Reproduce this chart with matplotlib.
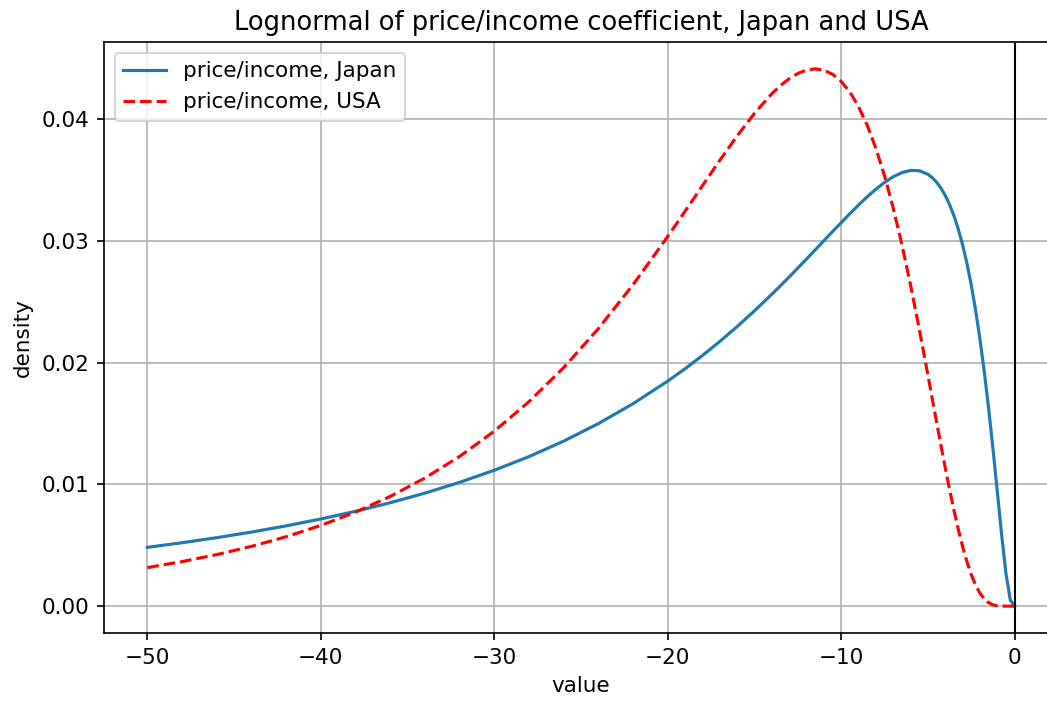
import matplotlib
matplotlib.use("Agg")
import matplotlib.pyplot as plt

plt.rcParams["font.size"] = 10.3

# value axis (negated price/income), shared by both curves
value = [-50, -48, -46, -44, -42, -40, -38, -36, -34, -32, -30, -28, -26, -24, -22,
         -20, -19, -18, -17, -16, -15, -14, -13.5, -13, -12.5, -12, -11.5, -11, -10.5,
         -10, -9.5, -9, -8.5, -8, -7.5, -7, -6.5, -6, -5.5, -5, -4.75, -4.5, -4.25,
         -4, -3.75, -3.5, -3.25, -3, -2.75, -2.5, -2.25, -2, -1.75, -1.5, -1.25, -1,
         -0.75, -0.5, -0.25, 0]

# lognormal density, Japan
density_japan = [0.004831, 0.005209, 0.005625, 0.006085, 0.006595, 0.007162, 0.007792,
                 0.008496, 0.009284, 0.010169, 0.011164, 0.012287, 0.013557, 0.014998,
                 0.016632, 0.018490, 0.019507, 0.020592, 0.021745, 0.022968, 0.024261,
                 0.025621, 0.026324, 0.027043, 0.027774, 0.028515, 0.029264, 0.030017,
                 0.030770, 0.031510, 0.032249, 0.032959, 0.033634, 0.034258, 0.034813,
                 0.035280, 0.035621, 0.035802, 0.035776, 0.035478, 0.035205, 0.034833,
                 0.034351, 0.033743, 0.032992, 0.032078, 0.030982, 0.029684, 0.028160,
                 0.026376, 0.024314, 0.021946, 0.019259, 0.016247, 0.012944, 0.009429,
                 0.005874, 0.002673, 0.000501, 0.0]

# lognormal density, USA
density_usa = [0.003167, 0.003659, 0.004234, 0.004909, 0.005701, 0.006632, 0.007725,
               0.009013, 0.010525, 0.012299, 0.014376, 0.016795, 0.019595, 0.022799,
               0.026408, 0.030370, 0.032443, 0.034542, 0.036623, 0.038631, 0.040489,
               0.042099, 0.042773, 0.043334, 0.043767, 0.044044, 0.044144, 0.044039,
               0.043705, 0.043114, 0.042237, 0.041041, 0.039509, 0.037617, 0.035351,
               0.032714, 0.029711, 0.026377, 0.022770, 0.018972, 0.017047, 0.015119,
               0.013212, 0.011352, 0.009572, 0.007880, 0.006315, 0.004896, 0.003649,
               0.002587, 0.001726, 0.001063, 0.000588, 0.000282, 0.000110, 0.000031,
               0.000003, 0.0, 0.0, 0.0]

fig = plt.figure(figsize=(6.98, 4.68), dpi=150)
ax = fig.add_axes([104 / 1047, 69 / 702, 954 / 1047, 591 / 702])

ax.plot(value, density_japan, label="price/income, Japan")
ax.plot(value, density_usa, "r--", label="price/income, USA")
ax.axvline(0, color="k", linewidth=1)

ax.set_title("Lognormal of price/income coefficient, Japan and USA")
ax.set_xlabel("value")
ax.set_ylabel("density")
ax.legend(loc="upper left")
ax.grid(True)

fig.savefig("out.png", dpi=150)
